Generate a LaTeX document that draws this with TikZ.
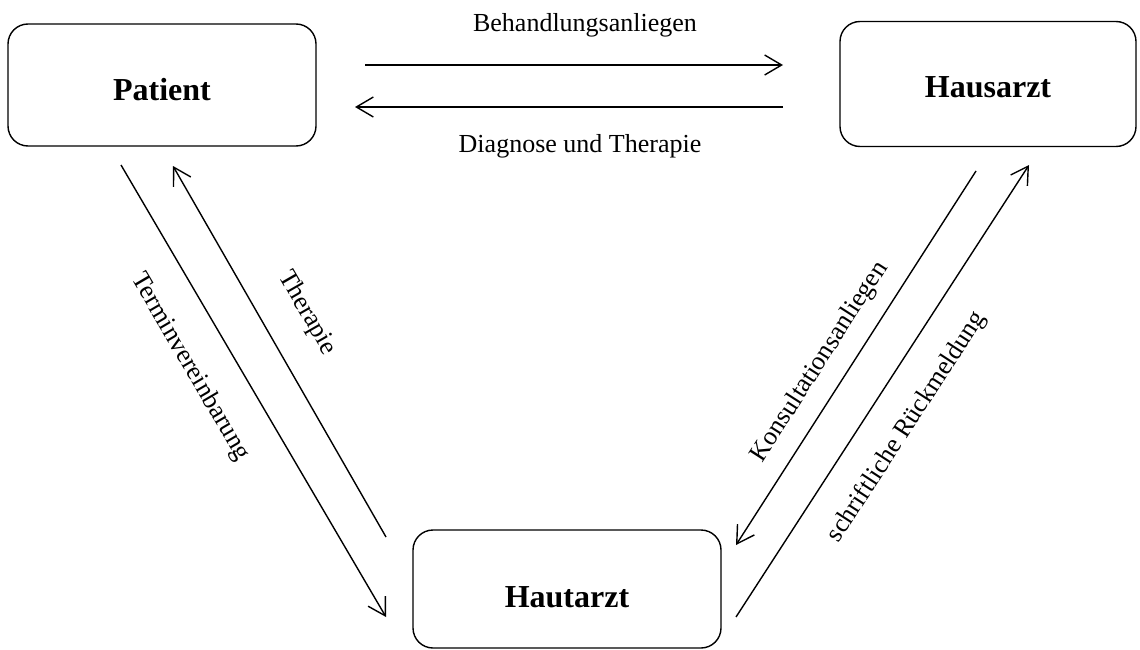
\documentclass[tikz,border=0pt]{standalone}
\usepackage{fontspec}
\setmainfont{Liberation Serif}
\usetikzlibrary{arrows.meta}
\begin{document}
\begin{tikzpicture}[x=1pt,y=-1pt,
  party/.style={draw, line width=1.4pt, rounded corners=20pt, align=center,
    font=\fontsize{32}{36}\selectfont\bfseries, inner sep=0pt, text depth=0pt},
  flow/.style={line width=1.4pt, -{Straight Barb[length=17pt,width=20pt,line width=1.4pt]}},
  lbl/.style={font=\fontsize{26}{30}\selectfont, inner sep=0pt}]
\useasboundingbox (0,0) rectangle (1140,650);

% the three parties (text height pushes the name slightly below the middle)
\node[party, minimum width=308pt, minimum height=122pt, text height=31pt] (patient) at (162,85) {Patient};
\node[party, minimum width=296pt, minimum height=125pt, text height=28pt] (hausarzt) at (988,84) {Hausarzt};
\node[party, minimum width=308pt, minimum height=118pt, text height=37pt] (hautarzt) at (567,589) {Hautarzt};

% arrow end points
\coordinate (ba1) at (365,65);   \coordinate (ba2) at (783,65);
\coordinate (dt1) at (783,107);  \coordinate (dt2) at (355,107);
\coordinate (tv1) at (121,165);  \coordinate (tv2) at (386,617);
\coordinate (th1) at (386,537);  \coordinate (th2) at (173,166);
\coordinate (ka1) at (976,171);  \coordinate (ka2) at (736,545);
\coordinate (sr1) at (736,617);  \coordinate (sr2) at (1029,165);

% Patient <-> Hausarzt
\draw[flow] (ba1) -- (ba2);
\draw[flow] (dt1) -- (dt2);
\node[lbl] (lba) at (585,25) {Behandlungsanliegen};
\node[lbl] (ldt) at (580,146) {Diagnose und Therapie};

% Patient <-> Hautarzt
\draw[flow] (tv1) -- (tv2);
\draw[flow] (th1) -- (th2);
\node[lbl, rotate=-59.6] (ltv) at (190,367) {Terminvereinbarung};
\node[lbl, rotate=-60.1] (lth) at (307,313) {Therapie};

% Hausarzt <-> Hautarzt
\draw[flow] (ka1) -- (ka2);
\draw[flow] (sr1) -- (sr2);
\node[lbl, rotate=57.3] (lka) at (820,362) {Konsultationsanliegen};
\node[lbl, rotate=57.0] (lsr) at (907,427) {schriftliche Rückmeldung};
\end{tikzpicture}
\end{document}
